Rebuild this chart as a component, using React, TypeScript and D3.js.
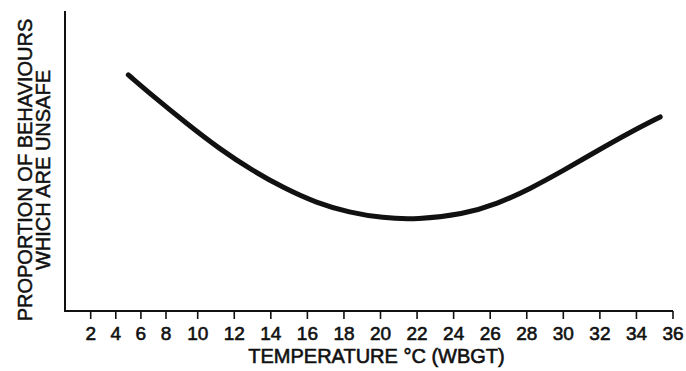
import * as d3 from 'd3';

// Temperature (°C WBGT) vs proportion of unsafe behaviours
const temperatures = [5, 7, 9.3, 11.2, 13, 14.7, 16.5, 18.3, 20.1, 22, 24.5, 26.4, 28.2, 30, 31.8, 33.6, 35.3];
const proportions = [0.787, 0.715, 0.625, 0.54, 0.468, 0.41, 0.36, 0.328, 0.31, 0.305, 0.322, 0.357, 0.408, 0.468, 0.532, 0.594, 0.647];

const xTicks = [2, 4, 6, 8, 10, 12, 14, 16, 18, 20, 22, 24, 26, 28, 30, 32, 34, 36];

const yLabelLines = ['PROPORTION OF BEHAVIOURS', 'WHICH ARE UNSAFE'];
const xLabel = 'TEMPERATURE °C (WBGT)';

const width = 686;
const height = 371;

const axisX = 65;
const axisTop = 11;
const axisBottom = 311;

// the printed axis is not quite evenly spaced below 10
const xScale = d3.scaleLinear()
  .domain([2, 8, 10, 36])
  .range([90.7, 166, 197.7, 673]);

const yScale = d3.scaleLinear()
  .domain([0, 1])
  .range([axisBottom, axisTop]);

const font = '"Liberation Sans", Arial, Helvetica, sans-serif';
const ink = '#111';

export default function App() {
  const points = temperatures.map((t, i) => [t, proportions[i]] as [number, number]);

  const line = d3.line<[number, number]>()
    .x(d => xScale(d[0]))
    .y(d => yScale(d[1]))
    .curve(d3.curveBasis);

  return (
    <svg
      width={width}
      height={height}
      style={{ position: 'absolute', left: 0, top: 0, background: '#fff' }}
    >
      {/* Axes */}
      <line x1={axisX} x2={axisX} y1={axisTop} y2={axisBottom + 1} stroke={ink} strokeWidth={2} />
      <line x1={axisX - 1} x2={xScale(36)} y1={axisBottom} y2={axisBottom} stroke={ink} strokeWidth={2} />

      {/* Ticks + labels */}
      {xTicks.map(t => (
        <g key={t} transform={`translate(${xScale(t)},0)`}>
          <line y1={axisBottom} y2={axisBottom + 8} stroke={ink} strokeWidth={1.6} />
          <text
            y={axisBottom + 29}
            textAnchor="middle"
            fontFamily={font}
            fontSize={19}
            fill={ink}
            stroke={ink}
            strokeWidth={0.6}
          >
            {t}
          </text>
        </g>
      ))}

      {/* X axis title */}
      <text
        x={(245 + 508) / 2}
        y={363}
        textAnchor="middle"
        fontFamily={font}
        fontSize={20}
        fill={ink}
        stroke={ink}
        strokeWidth={0.6}
      >
        {xLabel}
      </text>

      {/* Y axis title */}
      {yLabelLines.map((txt, i) => (
        <text
          key={txt}
          transform={`translate(${32 + i * 18},170) rotate(-90)`}
          textAnchor="middle"
          fontFamily={font}
          fontSize={20}
          fill={ink}
          stroke={ink}
          strokeWidth={0.5}
        >
          {txt}
        </text>
      ))}

      {/* Curve */}
      <path
        d={line(points) || ''}
        fill="none"
        stroke={ink}
        strokeWidth={5}
        strokeLinecap="round"
        strokeLinejoin="round"
      />
    </svg>
  );
}
